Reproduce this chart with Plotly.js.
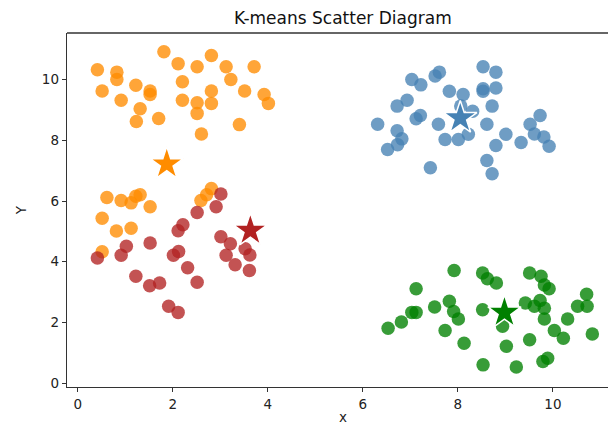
<!DOCTYPE html>
<html><head><meta charset="utf-8">
<script src="https://cdn.plot.ly/plotly-3.0.1.min.js"></script>
<style>html,body{margin:0;padding:0;background:#fff}#chart{width:608px;height:424px}</style>
</head><body><div id="chart"></div>
<script>
// Cluster points
const orangeX = [0.41,0.82,0.82,0.51,1.22,0.91,1.31,1.23,1.70,1.52,1.52,1.81,2.11,2.51,2.81,3.12,3.71,2.20,3.22,2.81,3.51,3.92,4.01,2.20,2.51,2.81,2.51,3.40,2.60,
  0.61,0.91,1.12,1.22,1.31,1.52,0.51,0.81,1.12,0.51,2.59,2.71,2.81];
const orangeY = [10.33,10.25,10.01,9.63,9.82,9.32,9.04,8.62,8.72,9.63,9.51,10.92,10.53,10.43,10.80,10.43,10.43,9.93,10.01,9.63,9.63,9.51,9.22,9.32,9.24,9.22,8.89,8.52,8.21,
  6.12,6.02,5.94,6.16,6.21,5.81,5.43,5.01,5.10,4.33,6.02,6.21,6.41];
const redX = [0.41,0.91,1.02,1.52,1.22,1.51,1.72,1.91,2.11,2.01,2.12,2.31,2.51,2.11,2.21,2.51,2.91,3.01,3.01,3.21,3.12,3.31,3.52,3.62,3.61];
const redY = [4.12,4.21,4.51,4.62,3.52,3.21,3.30,2.53,2.33,4.21,4.34,3.80,3.32,5.02,5.22,5.62,5.81,6.23,4.82,4.59,4.21,3.90,4.43,4.22,3.71];
const blueX = [6.31,6.72,6.93,7.03,7.22,7.52,7.61,6.72,6.82,6.73,6.52,7.12,7.21,7.42,7.59,7.82,8.11,7.73,8.01,8.22,8.06,8.31,
  8.53,8.80,8.53,8.53,8.80,8.72,8.61,9.01,8.80,9.33,8.61,8.72,9.52,9.73,9.61,9.81,9.92];
const blueY = [8.53,9.13,9.32,10.01,9.83,10.12,10.25,8.32,8.05,7.86,7.70,8.71,8.82,7.10,8.53,9.62,9.51,8.03,8.03,8.20,9.13,8.96,
  10.43,10.25,9.70,9.62,9.73,9.13,8.53,8.20,7.83,7.93,7.34,6.90,8.53,8.82,8.21,8.11,7.81];
const greenX = [6.53,6.81,7.03,7.12,7.12,7.51,7.82,7.91,8.01,7.73,7.92,8.13,8.52,8.62,8.81,8.52,8.94,8.53,9.23,9.02,9.51,9.42,9.61,9.73,9.82,
  9.51,9.75,9.82,9.92,9.82,10.03,10.22,10.31,10.52,10.72,10.71,10.83,9.79,9.89];
const greenY = [1.81,2.01,2.33,2.33,3.11,2.51,2.70,2.36,2.11,1.73,3.71,1.31,3.63,3.44,3.30,2.42,1.87,0.60,0.53,1.21,1.43,2.64,2.53,2.72,2.47,
  3.63,3.52,3.23,3.11,2.11,1.73,1.48,2.11,2.53,2.53,2.93,1.62,0.71,0.82];
// Cluster centres
const centerX = [1.87, 3.63, 8.05, 8.98];
const centerY = [7.22, 5.03, 8.74, 2.33];
const clusterColors = ['#ff8c00', '#b22222', '#4682b4', '#008000'];
const tickVals = [0, 2, 4, 6, 8, 10];

const ptTrace = (x, y, c) => ({x, y, type:'scatter', mode:'markers', hoverinfo:'skip',
  marker:{size:13.5, color:c, opacity:0.78, line:{width:0}}});
const traces = [
  ptTrace(orangeX, orangeY, clusterColors[0]),
  ptTrace(redX, redY, clusterColors[1]),
  ptTrace(blueX, blueY, clusterColors[2]),
  ptTrace(greenX, greenY, clusterColors[3]),
  {x:centerX, y:centerY, type:'scatter', mode:'markers', hoverinfo:'skip',
   marker:{symbol:'star', size:25, color:clusterColors, line:{width:1.5, color:'#ffffff'}}}
];
const axisCommon = {showgrid:false, zeroline:false, showline:true, linecolor:'#333', linewidth:1.3,
  ticks:'outside', ticklen:4, tickcolor:'#333', tickfont:{family:'DejaVu Sans', size:13.5, color:'#222'}};
const layout = {
  width:608, height:424, showlegend:false, paper_bgcolor:'#fff', plot_bgcolor:'#fff',
  margin:{l:67, r:0, t:33, b:37},
  title:{text:'K-means Scatter Diagram', x:0.51, xanchor:'center', xref:'paper', y:0.957, yanchor:'middle',
    font:{family:'DejaVu Sans', size:17, color:'#111'}},
  xaxis:Object.assign({}, axisCommon, {range:[-0.23, 11.16], tickvals:tickVals}),
  yaxis:Object.assign({}, axisCommon, {range:[-0.13, 11.54], tickvals:tickVals,
    title:{text:'Y', standoff:12, font:{family:'DejaVu Sans', size:13.5, color:'#222'}}}),
  annotations:[{text:'x', xref:'paper', yref:'paper', x:0.51, y:-0.084, xanchor:'center', yanchor:'middle',
    borderpad:0, showarrow:false, font:{family:'DejaVu Sans', size:13.5, color:'#222'}}],
  shapes:[{type:'line', xref:'paper', yref:'paper', x0:0, x1:1, y0:1, y1:1, line:{color:'#333', width:1.3}}]
};
Plotly.newPlot('chart', traces, layout, {displayModeBar:false, staticPlot:true});
</script></body></html>
